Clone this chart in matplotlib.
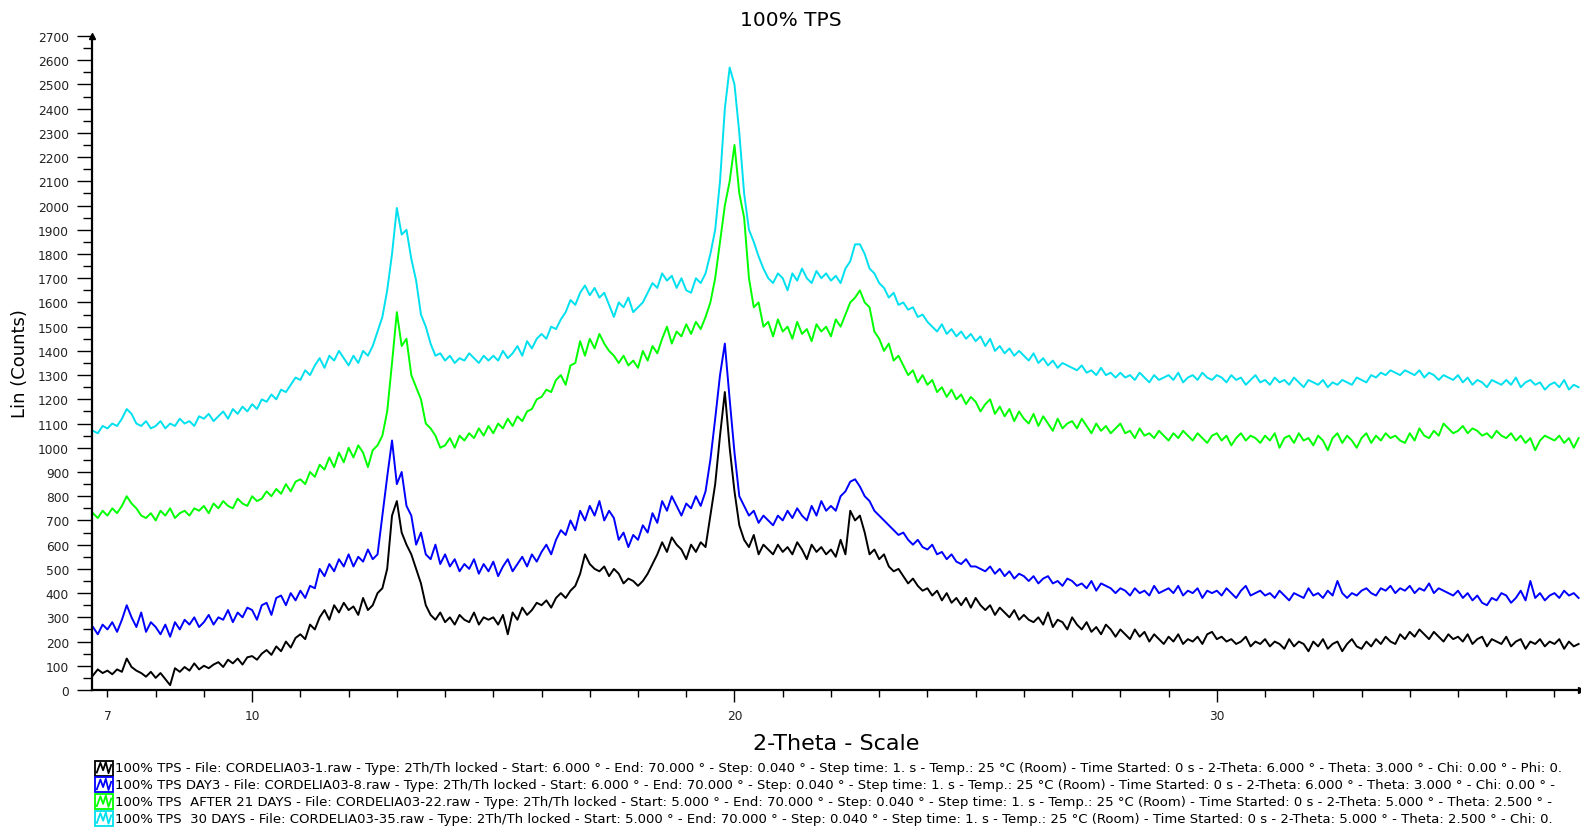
import numpy as np
import matplotlib
matplotlib.use("Agg")
import matplotlib.pyplot as plt
from matplotlib.ticker import MultipleLocator, FixedLocator, FuncFormatter
from matplotlib.lines import Line2D
from matplotlib.patches import Rectangle

plt.rcParams['font.family'] = ['DejaVu Sans']

# 2-theta grid (degrees), 0.1 step from 6.7 to 37.5
two_theta = np.round(6.7 + 0.1 * np.arange(309), 2)

counts_day0 = [
    60, 85, 70,
    80, 65, 85, 75, 130, 95, 80, 70, 55, 75,
    50, 70, 45, 20, 90, 75, 95, 80, 110, 85,
    100, 90, 105, 115, 95, 125, 110, 130, 105, 135,
    140, 125, 150, 165, 145, 180, 160, 200, 175, 215,
    230, 210, 270, 250, 300, 330, 290, 350, 320, 360,
    330, 345, 310, 380, 330, 350, 400, 420, 500, 720,
    780, 650, 600, 560, 500, 440, 350, 310, 290, 320,
    280, 300, 270, 310, 290, 280, 320, 270, 300, 290,
    300, 270, 310, 230, 320, 290, 340, 310, 330, 360,
    350, 370, 340, 380, 400, 380, 410, 430, 480, 560,
    520, 500, 490, 510, 470, 500, 480, 440, 460, 450,
    430, 450, 480, 520, 560, 610, 570, 630, 600, 580,
    540, 600, 570, 610, 590, 720, 850, 1050, 1230, 1000,
    820, 680, 620, 590, 640, 560, 600, 580, 560, 600,
    570, 590, 560, 610, 580, 540, 600, 570, 590, 560,
    580, 550, 620, 560, 740, 700, 720, 650, 560, 580,
    540, 560, 510, 490, 500, 470, 440, 460, 430, 410,
    420, 390, 410, 370, 400, 360, 380, 350, 380, 340,
    380, 350, 330, 350, 310, 340, 320, 300, 330, 290,
    310, 290, 280, 300, 270, 320, 260, 290, 280, 250,
    300, 270, 250, 280, 240, 260, 230, 270, 250, 220,
    250, 230, 210, 250, 220, 240, 200, 230, 210, 190,
    220, 200, 230, 190, 210, 200, 220, 190, 230, 240,
    210, 220, 200, 210, 190, 200, 220, 180, 200, 190,
    210, 180, 200, 190, 170, 210, 180, 200, 190, 160,
    200, 180, 210, 170, 190, 200, 160, 190, 210, 180,
    170, 200, 180, 210, 190, 220, 200, 190, 230, 210,
    240, 220, 250, 230, 210, 240, 220, 200, 230, 210,
    220, 200, 230, 190, 210, 220, 180, 210, 200, 190,
    220, 180, 200, 210, 170, 200, 190, 210, 180, 200,
    190, 210, 170, 200, 180, 190,
]

counts_day3 = [
    260, 230, 270,
    250, 280, 240, 290, 350, 300, 260, 320, 240, 280,
    260, 230, 270, 220, 280, 250, 290, 270, 300, 260,
    280, 310, 270, 300, 290, 330, 280, 320, 300, 340,
    330, 290, 350, 360, 310, 380, 390, 350, 400, 370,
    410, 380, 430, 420, 500, 470, 520, 490, 540, 510,
    560, 510, 550, 530, 580, 540, 560, 720, 880, 1030,
    850, 900, 760, 720, 600, 650, 560, 540, 600, 520,
    560, 510, 540, 490, 520, 500, 540, 480, 520, 490,
    530, 470, 510, 540, 490, 520, 550, 510, 560, 530,
    570, 600, 560, 620, 660, 640, 700, 660, 740, 700,
    760, 720, 780, 700, 740, 710, 620, 650, 590, 640,
    620, 680, 650, 730, 690, 780, 740, 800, 760, 720,
    770, 750, 800, 760, 820, 950, 1120, 1300, 1430, 1200,
    980, 800, 760, 720, 740, 690, 720, 700, 680, 720,
    700, 740, 710, 750, 720, 700, 760, 720, 780, 740,
    760, 740, 800, 820, 860, 870, 840, 800, 780, 740,
    720, 700, 680, 660, 640, 650, 620, 600, 620, 590,
    580, 600, 560, 570, 540, 560, 530, 520, 540, 510,
    510, 500, 490, 510, 480, 500, 470, 490, 460, 480,
    470, 450, 470, 440, 460, 470, 440, 450, 430, 460,
    450, 430, 440, 420, 450, 410, 440, 430, 420, 400,
    420, 410, 390, 420, 400, 410, 390, 430, 400, 410,
    420, 400, 430, 390, 410, 400, 420, 380, 410, 400,
    410, 390, 420, 400, 380, 410, 430, 390, 400, 410,
    390, 400, 380, 410, 390, 370, 400, 390, 380, 420,
    390, 400, 380, 410, 390, 450, 400, 380, 400, 390,
    410, 420, 400, 390, 420, 410, 430, 400, 420, 410,
    430, 400, 420, 410, 440, 400, 420, 410, 400, 390,
    410, 380, 400, 370, 390, 360, 350, 380, 370, 400,
    390, 360, 380, 410, 370, 450, 380, 400, 370, 390,
    400, 380, 410, 390, 400, 380,
]

counts_day21 = [
    730, 710, 740,
    720, 750, 730, 760, 800, 770, 750, 720, 710, 730,
    700, 740, 720, 750, 710, 730, 740, 720, 750, 740,
    760, 730, 770, 750, 780, 760, 750, 790, 770, 760,
    800, 780, 790, 820, 800, 830, 810, 850, 820, 860,
    870, 850, 900, 880, 930, 910, 960, 920, 980, 940,
    1000, 960, 1010, 980, 920, 990, 1010, 1050, 1150, 1350,
    1560, 1420, 1450, 1300, 1250, 1200, 1100, 1080, 1050, 1000,
    1010, 1040, 1000, 1050, 1030, 1060, 1040, 1080, 1050, 1090,
    1060, 1100, 1080, 1120, 1090, 1130, 1110, 1150, 1160, 1200,
    1210, 1240, 1230, 1280, 1300, 1260, 1340, 1350, 1440, 1380,
    1450, 1410, 1470, 1430, 1400, 1380, 1350, 1380, 1340, 1360,
    1330, 1400, 1360, 1420, 1390, 1450, 1500, 1430, 1480, 1460,
    1510, 1470, 1520, 1490, 1540, 1600, 1700, 1850, 2000, 2100,
    2250, 2050, 1950, 1700, 1580, 1600, 1500, 1520, 1460, 1530,
    1480, 1500, 1450, 1520, 1470, 1490, 1440, 1510, 1480, 1500,
    1460, 1530, 1500, 1550, 1600, 1620, 1650, 1600, 1580, 1480,
    1450, 1400, 1430, 1360, 1380, 1340, 1300, 1320, 1270, 1300,
    1260, 1280, 1230, 1250, 1210, 1240, 1200, 1220, 1180, 1210,
    1190, 1150, 1180, 1200, 1140, 1170, 1130, 1160, 1110, 1150,
    1120, 1100, 1140, 1090, 1130, 1100, 1070, 1120, 1080, 1100,
    1110, 1080, 1120, 1090, 1060, 1100, 1070, 1090, 1060, 1080,
    1100, 1060, 1070, 1040, 1080, 1050, 1060, 1040, 1070, 1050,
    1030, 1060, 1040, 1070, 1050, 1030, 1060, 1040, 1020, 1050,
    1060, 1030, 1050, 1010, 1040, 1060, 1030, 1050, 1040, 1020,
    1050, 1030, 1060, 1000, 1040, 1050, 1020, 1060, 1030, 1040,
    1010, 1050, 1030, 990, 1040, 1060, 1020, 1050, 1030, 1000,
    1040, 1060, 1020, 1050, 1030, 1060, 1040, 1050, 1030, 1020,
    1060, 1030, 1080, 1050, 1040, 1070, 1050, 1100, 1080, 1060,
    1070, 1090, 1060, 1080, 1070, 1050, 1060, 1040, 1070, 1050,
    1040, 1060, 1030, 1050, 1020, 1040, 990, 1030, 1050, 1040,
    1030, 1050, 1020, 1040, 1000, 1040,
]

counts_day30 = [
    1070, 1060, 1090,
    1080, 1100, 1090, 1120, 1160, 1140, 1100, 1090, 1110, 1080,
    1090, 1110, 1080, 1100, 1090, 1120, 1100, 1110, 1090, 1130,
    1120, 1140, 1110, 1130, 1150, 1120, 1160, 1140, 1170, 1150,
    1180, 1160, 1200, 1190, 1220, 1200, 1240, 1230, 1260, 1290,
    1280, 1320, 1300, 1340, 1370, 1330, 1380, 1360, 1400, 1370,
    1340, 1380, 1350, 1400, 1380, 1420, 1480, 1540, 1650, 1800,
    1990, 1880, 1900, 1780, 1690, 1550, 1500, 1430, 1380, 1390,
    1360, 1380, 1350, 1370, 1360, 1390, 1370, 1350, 1380, 1360,
    1380, 1360, 1400, 1370, 1390, 1420, 1380, 1440, 1410, 1450,
    1470, 1450, 1500, 1490, 1530, 1560, 1610, 1590, 1640, 1670,
    1630, 1660, 1620, 1640, 1590, 1540, 1600, 1580, 1620, 1560,
    1580, 1600, 1640, 1680, 1660, 1720, 1690, 1710, 1660, 1700,
    1650, 1640, 1700, 1680, 1720, 1800, 1900, 2100, 2400, 2570,
    2500, 2300, 2050, 1900, 1850, 1790, 1740, 1700, 1680, 1720,
    1700, 1650, 1720, 1690, 1740, 1700, 1680, 1730, 1700, 1720,
    1690, 1710, 1680, 1740, 1770, 1840, 1840, 1800, 1740, 1720,
    1680, 1660, 1620, 1640, 1590, 1600, 1570, 1580, 1540, 1550,
    1520, 1500, 1480, 1510, 1470, 1490, 1460, 1480, 1450, 1470,
    1440, 1460, 1420, 1450, 1400, 1420, 1390, 1410, 1380, 1400,
    1380, 1360, 1390, 1350, 1370, 1340, 1360, 1330, 1350, 1340,
    1330, 1320, 1340, 1310, 1320, 1300, 1330, 1300, 1310, 1290,
    1310, 1290, 1300, 1280, 1310, 1290, 1270, 1300, 1280, 1290,
    1300, 1280, 1310, 1270, 1290, 1300, 1280, 1310, 1290, 1280,
    1300, 1290, 1270, 1300, 1280, 1290, 1260, 1280, 1300, 1270,
    1280, 1260, 1290, 1270, 1280, 1260, 1290, 1270, 1250, 1280,
    1270, 1260, 1280, 1250, 1270, 1260, 1280, 1270, 1260, 1290,
    1280, 1270, 1300, 1290, 1310, 1300, 1320, 1310, 1300, 1320,
    1310, 1300, 1320, 1290, 1310, 1300, 1280, 1300, 1290, 1280,
    1300, 1270, 1290, 1260, 1280, 1270, 1250, 1280, 1270, 1260,
    1280, 1260, 1290, 1250, 1270, 1280, 1260, 1270, 1240, 1260,
    1270, 1250, 1280, 1240, 1260, 1250,
]

series_colors = ['#000000', '#0000FF', '#00FF00', '#00E0EE']
legend_labels = [
    "100% TPS - File: CORDELIA03-1.raw - Type: 2Th/Th locked - Start: 6.000 ° - End: 70.000 ° - Step: 0.040 ° - Step time: 1. s - Temp.: 25 °C (Room) - Time Started: 0 s - 2-Theta: 6.000 ° - Theta: 3.000 ° - Chi: 0.00 ° - Phi: 0.",
    "100% TPS DAY3 - File: CORDELIA03-8.raw - Type: 2Th/Th locked - Start: 6.000 ° - End: 70.000 ° - Step: 0.040 ° - Step time: 1. s - Temp.: 25 °C (Room) - Time Started: 0 s - 2-Theta: 6.000 ° - Theta: 3.000 ° - Chi: 0.00 ° -",
    "100% TPS  AFTER 21 DAYS - File: CORDELIA03-22.raw - Type: 2Th/Th locked - Start: 5.000 ° - End: 70.000 ° - Step: 0.040 ° - Step time: 1. s - Temp.: 25 °C (Room) - Time Started: 0 s - 2-Theta: 5.000 ° - Theta: 2.500 ° -",
    "100% TPS  30 DAYS - File: CORDELIA03-35.raw - Type: 2Th/Th locked - Start: 5.000 ° - End: 70.000 ° - Step: 0.040 ° - Step time: 1. s - Temp.: 25 °C (Room) - Time Started: 0 s - 2-Theta: 5.000 ° - Theta: 2.500 ° - Chi: 0.",
]
series = [counts_day0, counts_day3, counts_day21, counts_day30]

W, H = 1581, 829
fig = plt.figure(figsize=(W / 100, H / 100), dpi=100)
ax = fig.add_axes([92 / W, 1 - 691 / H, (1581 - 92) / W, (691 - 37) / H])

for y, c in zip(series, series_colors):
    ax.plot(two_theta, y, color=c, lw=1.4)

ax.set_xlim(6.68, 37.55)
ax.set_ylim(0, 2700)
for s in ['top', 'right']:
    ax.spines[s].set_visible(False)
for s in ['left', 'bottom']:
    ax.spines[s].set_linewidth(1.6)

# y ticks
ax.yaxis.set_major_locator(MultipleLocator(100))
ax.yaxis.set_minor_locator(MultipleLocator(50))
ax.tick_params(axis='y', which='major', length=10.5, width=1.0, labelsize=8.8, pad=6,
               direction='out', labelcolor='#222222')
ax.tick_params(axis='y', which='minor', length=6.5, width=1.0, direction='out')

# x ticks
ax.xaxis.set_major_locator(FixedLocator([10, 20, 30]))
ax.xaxis.set_minor_locator(FixedLocator(list(range(7, 38))))
ax.xaxis.set_minor_formatter(FuncFormatter(lambda v, p: '7' if abs(v - 7) < 1e-6 else ''))
ax.tick_params(axis='x', which='major', length=8.4, width=1.0, labelsize=8.8, pad=5.6,
               direction='out', labelcolor='#222222')
ax.tick_params(axis='x', which='minor', length=5, width=1.0, labelsize=8.8, pad=9,
               direction='out', labelcolor='#222222')

# arrowheads
ax.plot([0], [1], marker='^', color='black', markersize=5, transform=ax.transAxes, clip_on=False)
ax.plot([1], [0], marker='>', color='black', markersize=5, transform=ax.transAxes, clip_on=False)

ax.set_ylabel('Lin (Counts)', fontsize=13, va='center')
ax.yaxis.set_label_coords(-0.0482, 0.5)
ax.set_xlabel('2-Theta - Scale', fontsize=16, va='center')
ax.xaxis.set_label_coords(0.5, -0.081)
fig.text(0.5, 1 - 20 / H, '100% TPS', ha='center', va='center', fontsize=14.5)

# legend block
y0 = 769
for i, (lab, c) in enumerate(zip(legend_labels, series_colors)):
    yc = y0 + i * 16.8
    bx, bw, bh = 95, 18, 15
    fig.add_artist(Rectangle((bx / W, 1 - (yc + bh / 2) / H), bw / W, bh / H,
                             transform=fig.transFigure, fill=False, edgecolor=c, lw=1.3))
    zx = np.array([0.1, 0.3, 0.45, 0.6, 0.75, 0.9]) * bw + bx
    zy = np.array([0.3, -0.35, 0.15, -0.4, 0.35, -0.2]) * bh + yc
    fig.add_artist(Line2D(zx / W, 1 - zy / H, transform=fig.transFigure, color=c, lw=1.3))
    fig.text(115 / W, 1 - yc / H, lab, ha='left', va='center', fontsize=9.55)

fig.savefig('out.png', dpi=100)
